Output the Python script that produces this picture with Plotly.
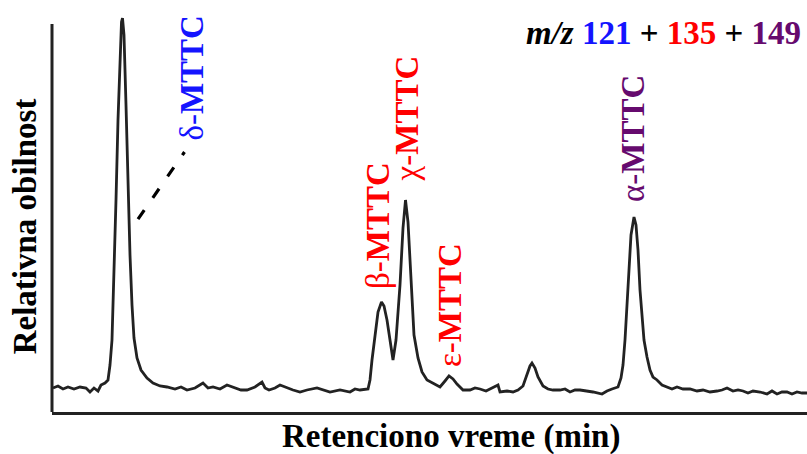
import plotly.graph_objects as go

# Retention time (arbitrary units) and relative abundance
time = [0.1, 0.6, 1.1, 1.6, 2.2, 2.8, 3.4, 3.8, 4.2, 4.6, 4.9, 5.3, 5.6, 5.8, 6.0, 6.2, 6.4, 6.6, 6.8,
        6.95, 7.05, 7.2, 7.4, 7.6, 7.8, 8.0, 8.2, 8.5, 8.9, 9.5, 10.1, 10.8, 11.5, 12.3, 12.9, 13.5,
        14.3, 15.1, 15.6, 16.1, 16.8, 17.5, 18.3, 18.9, 19.5, 20.3, 21.0, 21.3, 21.7, 22.3, 22.8, 23.5,
        24.1, 24.8, 25.5, 26.5, 27.2, 27.8, 28.8, 29.4, 29.8, 30.3, 30.8, 31.6, 31.8, 32.0, 32.3, 32.6,
        32.95, 33.2, 33.5, 33.8, 34.1, 34.4, 34.6, 34.8, 35.1, 35.35, 35.6, 35.9, 36.2, 36.6, 37.0,
        37.5, 38.1, 38.8, 39.3, 39.7, 40.1, 40.5, 41.1, 41.8, 42.3, 42.8, 43.4, 43.8, 44.6, 44.8, 45.5,
        46.1, 46.6, 47.1, 47.5, 47.8, 48.0, 48.3, 48.6, 49.1, 49.6, 50.1, 50.8, 51.3, 51.8, 52.3, 52.8,
        53.5, 54.1, 55.0, 55.5, 56.0, 56.6, 56.9, 57.1, 57.3, 57.5, 57.7, 57.9, 58.2, 58.4, 58.6, 58.8,
        59.0, 59.2, 59.5, 59.8, 60.1, 60.5, 61.0, 61.5, 62.0, 62.5, 63.1, 63.8, 64.5, 65.1, 65.8, 66.5,
        67.0, 67.5, 68.1, 68.6, 69.1, 69.6, 70.1, 70.8, 71.5, 72.0, 72.5, 73.0, 73.5, 74.0, 74.5, 75.0,
        75.5]
abundance = [6.0, 6.5, 5.75, 6.25, 5.75, 6.25, 6.0, 5.0, 6.0, 5.25, 6.75, 7.25, 8.0, 11.75, 18.0, 33.0,
             53.0, 73.0, 90.5, 97.5, 98.5, 94.25, 76.75, 56.75, 39.25, 26.75, 18.5, 13.5, 10.5, 8.5, 7.25,
             6.5, 6.25, 5.75, 6.25, 5.5, 6.0, 7.25, 6.0, 6.25, 5.75, 6.75, 6.0, 5.5, 5.5, 6.25, 7.5, 6.0,
             5.5, 6.0, 6.75, 6.0, 5.5, 5.0, 5.5, 6.0, 5.5, 5.0, 5.5, 5.25, 5.0, 5.75, 5.5, 5.75, 8.0, 13.0,
             19.25, 25.0, 27.5, 26.5, 23.0, 17.5, 13.0, 18.0, 25.5, 31.75, 46.0, 53.0, 47.5, 31.75, 19.25,
             13.5, 10.0, 8.0, 7.25, 6.25, 7.75, 9.0, 8.25, 7.0, 5.5, 5.5, 6.0, 5.75, 5.25, 5.75, 6.75, 5.0,
             5.25, 5.0, 5.5, 6.5, 9.25, 11.5, 12.25, 11.0, 8.75, 6.5, 5.75, 5.5, 5.5, 5.75, 5.0, 5.5, 5.5,
             5.25, 5.0, 4.5, 5.25, 5.75, 6.25, 8.5, 11.75, 18.0, 25.5, 35.5, 44.25, 48.75, 46.75, 40.5,
             30.5, 23.5, 18.0, 13.75, 10.5, 8.75, 8.0, 6.75, 6.25, 5.75, 6.25, 5.75, 5.75, 5.25, 5.5, 5.0,
             5.25, 5.5, 6.0, 5.25, 5.5, 5.25, 4.75, 5.25, 5.0, 4.5, 5.25, 4.5, 5.0, 5.0, 4.5, 5.0, 4.75,
             4.75]

# Peak labels
peak_names = ["δ", "β", "χ", "ε", "α"]
peak_colors = ["#1414ff", "#ff0000", "#ff0000", "#ff0000", "#660a6e"]
label_time = [14.0, 32.6, 35.5, 39.8, 58.1]
label_abund = [83.6, 46.5, 73.4, 26.75, 68.25]

# Leader line for the delta label
leader_time = [8.6, 13.25]
leader_abund = [48.2, 65.0]

ion_masses = ["121", "135", "149"]
ion_colors = ["#1414ff", "#ff0000", "#660a6e"]

FONT = "Liberation Serif"

fig = go.Figure()
fig.add_trace(go.Scatter(x=time, y=abundance, mode="lines",
                         line=dict(color="#222222", width=2.8), hoverinfo="skip"))
fig.add_trace(go.Scatter(x=leader_time, y=leader_abund, mode="lines",
                         line=dict(color="#000000", width=3.2, dash="11px,15px"), hoverinfo="skip"))

for name, col, tx, ay in zip(peak_names, peak_colors, label_time, label_abund):
    fig.add_annotation(x=tx, y=ay, xref="x", yref="y", text=f"{name}-<b>MTTC</b>",
                       textangle=-90, showarrow=False, xanchor="center", yanchor="middle",
                       font=dict(family=FONT, size=33, color=col))

mz_text = "<b><i>m/z</i> " + " + ".join(
    f"<span style='color:{c}'>{m}</span>" for m, c in zip(ion_masses, ion_colors)) + "</b>"
fig.add_annotation(x=75.1, y=94.75, xref="x", yref="y", text=mz_text, showarrow=False,
                   xanchor="right", yanchor="middle", font=dict(family=FONT, size=33, color="#000"))

fig.add_annotation(x=0.528, y=-0.062, xref="paper", yref="paper", text="<b>Retenciono vreme (min)</b>",
                   showarrow=False, xanchor="center", yanchor="middle",
                   font=dict(family=FONT, size=33, color="#000"))
fig.add_annotation(x=-0.036, y=0.4614, xref="paper", yref="paper", text="<b>Relativna obilnost</b>",
                   textangle=-90, showarrow=False, xanchor="center", yanchor="middle",
                   font=dict(family=FONT, size=33, color="#000"))

# left axis line (shorter than plot height)
fig.add_shape(type="line", xref="paper", yref="y", x0=0, x1=0, y0=0, y1=97,
              line=dict(color="#222222", width=3))

fig.update_layout(
    width=807, height=454, margin=dict(l=52, r=0, t=10, b=42),
    paper_bgcolor="white", plot_bgcolor="white", showlegend=False,
    xaxis=dict(range=[0, 75.5], showline=True, linewidth=3, linecolor="#222222",
               showticklabels=False, ticks="", showgrid=False, zeroline=False),
    yaxis=dict(range=[0, 100.5], showline=False, showticklabels=False, ticks="",
               showgrid=False, zeroline=False),
)

fig.write_html("out.html")
